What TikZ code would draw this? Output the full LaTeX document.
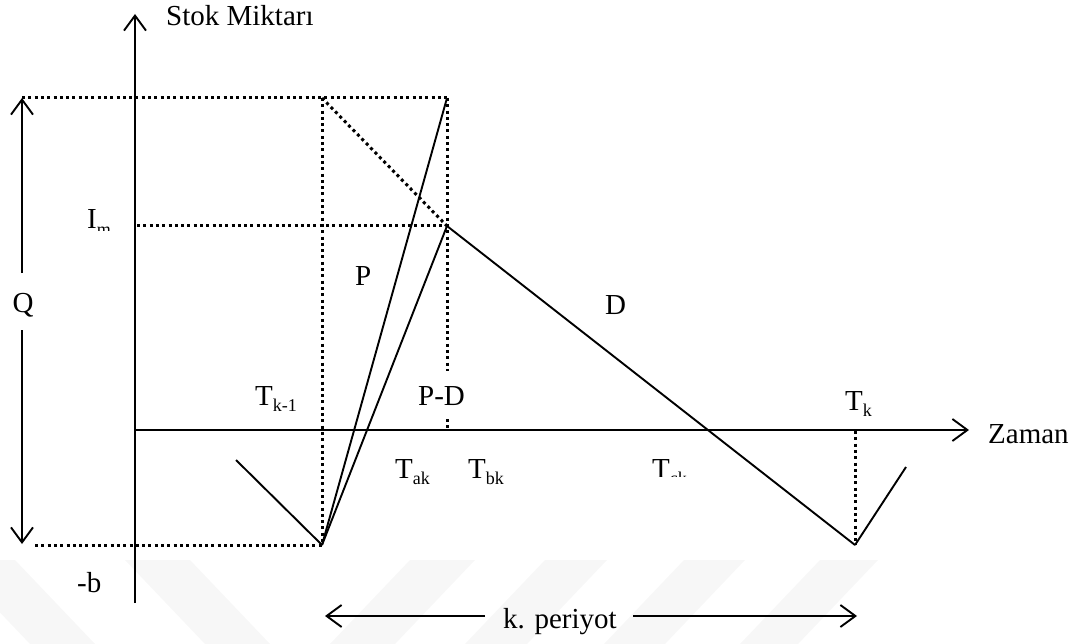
\documentclass[tikz,border=0pt]{standalone}
\usepackage{fontspec}
\setmainfont{Liberation Serif}
\usetikzlibrary{arrows.meta}
\newcommand\lo[1]{\raisebox{-0.22em}{\fontsize{18}{18}\selectfont #1}}
\begin{document}
\begin{tikzpicture}[x=1pt,y=-1pt,
  lbl/.style={inner sep=0pt, anchor=base west, font=\fontsize{29}{32}\selectfont},
  solidline/.style={line width=1.9pt},
  dotline/.style={line width=3pt, dash pattern=on 3pt off 3.3pt},
  tip/.style={-{Straight Barb[length=15pt,width=22pt,line width=1.9pt]}},
  wm/.style={fill=gray!6, draw=none}]
\useasboundingbox (0,0) rectangle (1083,644);
% faint watermark stripes
\fill[wm] (-50,560) -- (15,560) -- (95,644) -- (30,644) -- cycle;
\fill[wm] (125,560) -- (190,560) -- (270,644) -- (205,644) -- cycle;
\fill[wm] (410,560) -- (475,560) -- (395,644) -- (330,644) -- cycle;
\fill[wm] (545,560) -- (607,560) -- (527,644) -- (465,644) -- cycle;
\fill[wm] (684,560) -- (745,560) -- (665,644) -- (604,644) -- cycle;
\fill[wm] (820,560) -- (878,560) -- (798,644) -- (740,644) -- cycle;
% coordinates
\coordinate (Ybot) at (135,603);
\coordinate (Ytop) at (135,14);
\coordinate (O) at (135,430);
\coordinate (Xend) at (969,430);
\coordinate (G) at (22,98);
\coordinate (H) at (22,544);
\coordinate (H2) at (35,545);
\coordinate (F) at (322,98);
\coordinate (A) at (322,545);
\coordinate (B) at (447,98);
\coordinate (C) at (447,226);
\coordinate (C1) at (447,371);
\coordinate (pd1) at (447,419);
\coordinate (pd2) at (447,430);
\coordinate (Im0) at (137,226);
\coordinate (E) at (855,545);
\coordinate (Ek) at (855,431);
\coordinate (Pprev) at (236,460);
\coordinate (Enext) at (906,467);
\coordinate (q1) at (22,273);
\coordinate (q2) at (22,330);
\coordinate (kl) at (325,616);
\coordinate (kpl) at (485,616);
\coordinate (kpr) at (633,616);
\coordinate (kr) at (857,616);
% axes
\draw[solidline, tip] (Ybot) -- (Ytop);
\draw[solidline, tip] (O) -- (Xend);
% dotted guides
\draw[dotline] (G) -- (B);
\draw[dotline] (Im0) -- (C);
\draw[dotline] (H2) -- (A);
\draw[dotline] (F) -- (A);
\draw[dotline] (B) -- (C1);
\draw[dotline] (pd1) -- (pd2);
\draw[dotline] (F) -- (C);
\draw[dotline] (Ek) -- (E);
% inventory lines
\draw[solidline] (A) -- (B);
\draw[solidline] (A) -- (C);
\draw[solidline] (C) -- (E);
\draw[solidline] (Pprev) -- (A);
\draw[solidline] (E) -- (Enext);
% Q arrows
\draw[solidline, tip] (q1) -- (G);
\draw[solidline, tip] (q2) -- (H);
% period arrows
\draw[solidline, tip] (kpl) -- (kl);
\draw[solidline, tip] (kpr) -- (kr);
% labels
\node[lbl] (stok) at (166,26) {Stok Miktarı};
\node[lbl] (zaman) at (988,443) {Zaman};
\begin{scope}
  \clip (80,195) rectangle (126,231);
  \node[lbl] (im) at (87,229) {I\lo{m}};
\end{scope}
\node[lbl, anchor=base] (q) at (23,312) {Q};
\node[lbl] (b) at (77,592) {-b};
\node[lbl] (p) at (355,285) {P};
\node[lbl] (d) at (605,314) {D};
\node[lbl] (pd) at (418,405) {P-D};
\node[lbl] (tk1) at (255,405) {T\lo{k-1}};
\node[lbl] (tk) at (845,410) {T\lo{k}};
\node[lbl] (tak) at (395,478) {T\lo{ak}};
\node[lbl] (tbk) at (468,478) {T\lo{bk}};
\begin{scope}
  \clip (640,440) rectangle (720,476);
  \node[lbl] (tck) at (652,478) {T\lo{ck}};
\end{scope}
\node[lbl] (kp) at (503,628) {k. periyot};
\end{tikzpicture}
\end{document}
